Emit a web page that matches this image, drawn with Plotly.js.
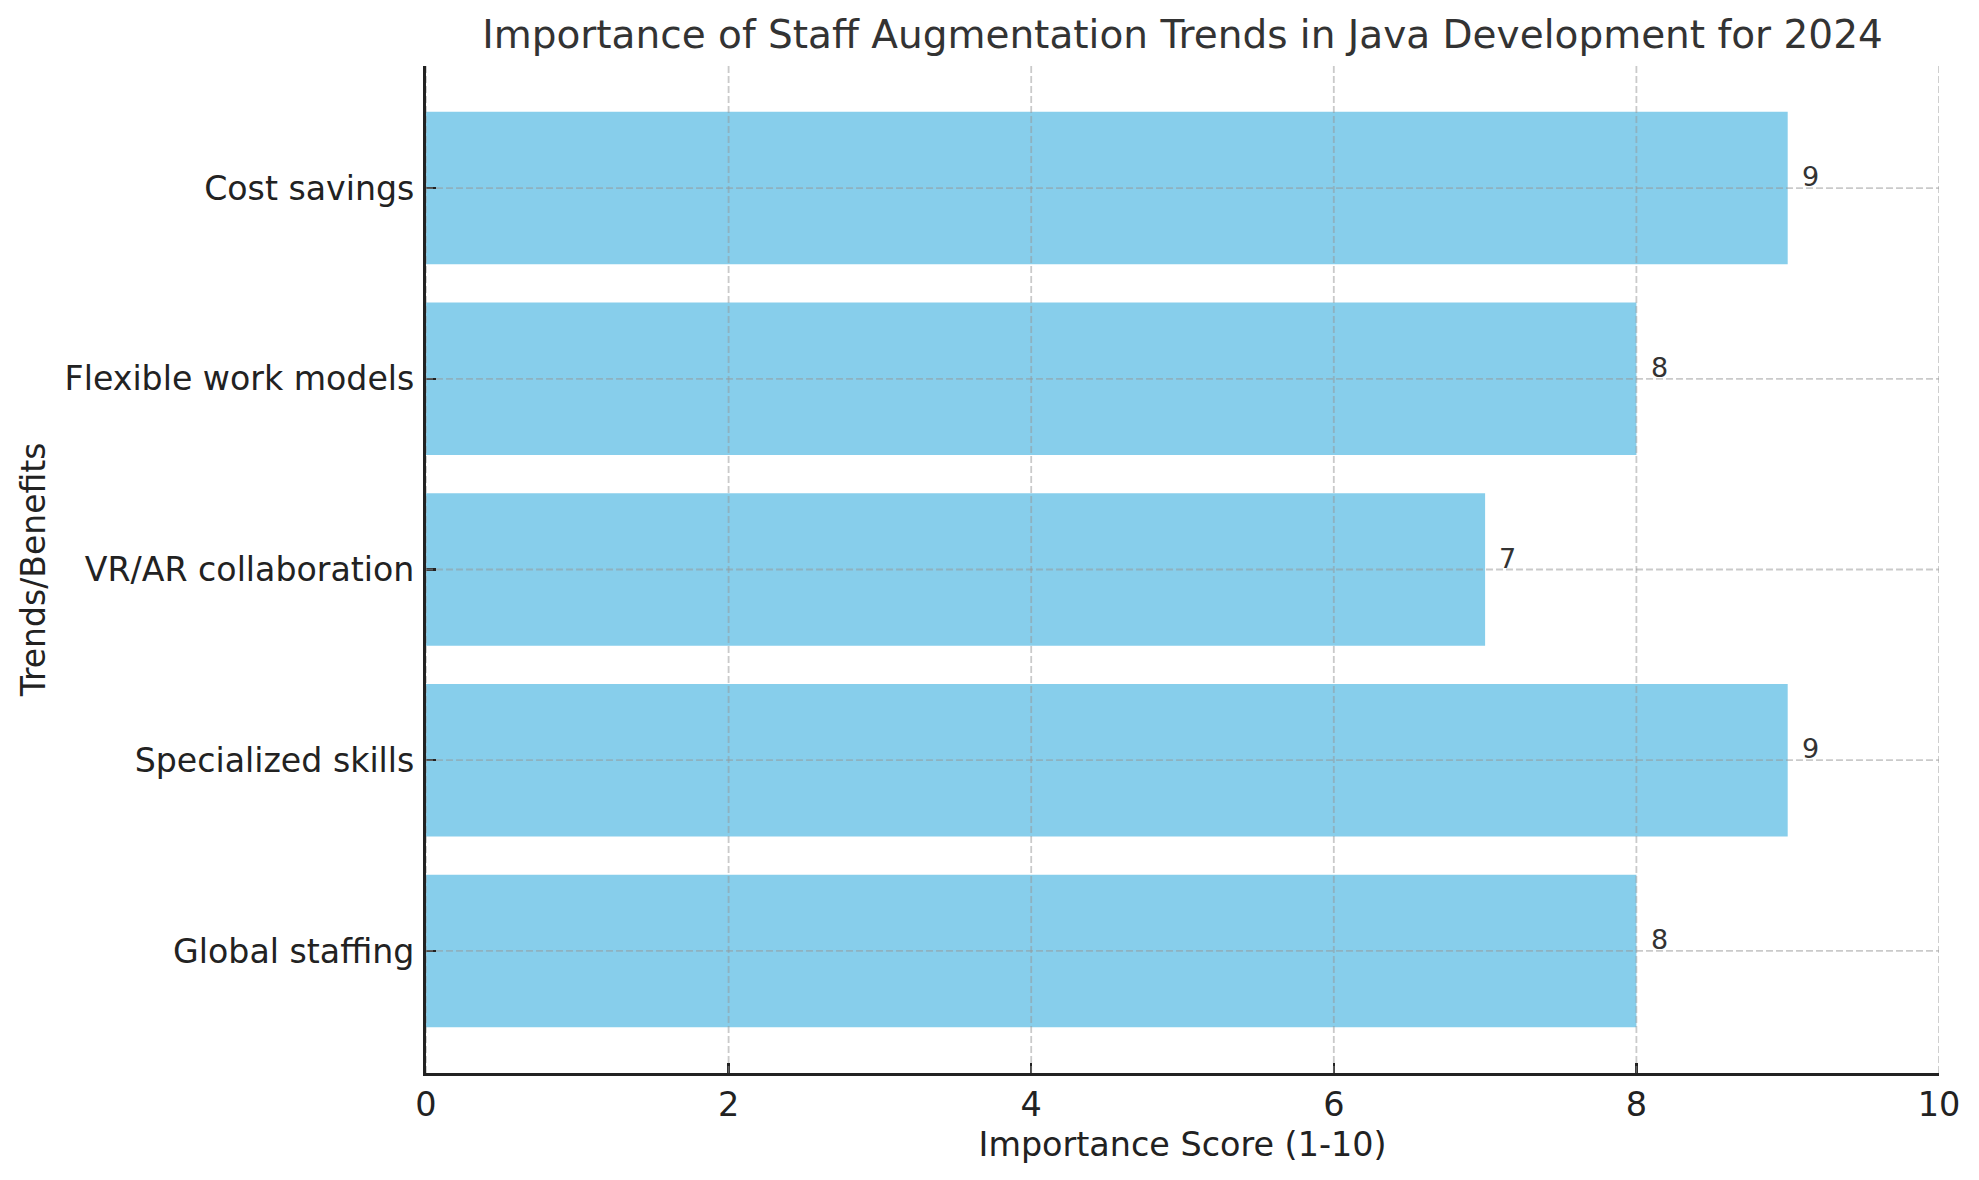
<!DOCTYPE html>
<html>
<head>
<meta charset="utf-8">
<script src="https://cdn.plot.ly/plotly-3.0.1.min.js"></script>
<style>
  html, body { margin: 0; padding: 0; background: #fff; }
  #chart { width: 1979px; height: 1180px; }
</style>
</head>
<body>
<div id="chart"></div>
<script>
// Data, bottom to top as drawn
const categories = ['Global staffing', 'Specialized skills', 'VR/AR collaboration', 'Flexible work models', 'Cost savings'];
const scores = [8, 9, 7, 8, 9];
const xTicks = [0, 2, 4, 6, 8, 10];

const FONT = 'DejaVu Sans, Verdana, sans-serif';
const gridStyle = { color: 'rgba(150,150,150,0.5)', width: 1.8, dash: '7px,3px' };

const trace = {
    type: 'bar',
    orientation: 'h',
    x: scores,
    y: categories,
    marker: { color: '#87CEEB', line: { width: 0 } },
    hoverinfo: 'x+y'
};

// grid above the bars, like the original
const shapes = [];
xTicks.forEach(t => {
    shapes.push({ type: 'line', layer: 'above', xref: 'x', yref: 'paper',
        x0: t, x1: t, y0: 0, y1: 1, line: gridStyle });
});
categories.forEach(c => {
    shapes.push({ type: 'line', layer: 'above', xref: 'paper', yref: 'y',
        x0: 0, x1: 1, y0: c, y1: c, line: gridStyle });
});

// value labels just right of each bar
const annotations = categories.map((c, i) => ({
    x: scores[i] + 0.1, y: c, xref: 'x', yref: 'y',
    text: String(scores[i]), showarrow: false,
    xanchor: 'left', yanchor: 'bottom', yshift: -6, xshift: -3,
    font: { family: FONT, size: 27, color: '#333' }
}));

const layout = {
    width: 1979,
    height: 1180,
    margin: { l: 426, r: 40, t: 66, b: 107 },
    paper_bgcolor: '#fff',
    plot_bgcolor: '#fff',
    font: { family: FONT, color: '#222' },
    title: {
        text: 'Importance of Staff Augmentation Trends in Java Development for 2024',
        font: { family: FONT, size: 39, color: '#333' },
        xref: 'paper', x: 0.5, xanchor: 'center',
        yref: 'container', y: 0.971, yanchor: 'middle'
    },
    bargap: 0.2,
    showlegend: false,
    xaxis: {
        range: [0, 10],
        tickvals: xTicks,
        ticktext: xTicks.map(String),
        showgrid: false,
        zeroline: false,
        showline: true, linecolor: '#222', linewidth: 3,
        ticks: 'inside', ticklen: 10, tickwidth: 2.5, tickcolor: '#222',
        tickfont: { family: FONT, size: 33.5, color: '#222' },
        title: { text: 'Importance Score (1-10)', standoff: 10,
                 font: { family: FONT, size: 33.4, color: '#222' } },
        automargin: false,
        fixedrange: true
    },
    yaxis: {
        type: 'category',
        categoryorder: 'array',
        categoryarray: categories,
        range: [-0.64, 4.64],
        showgrid: false,
        zeroline: false,
        showline: true, linecolor: '#222', linewidth: 3,
        ticks: 'inside', ticklen: 10, tickwidth: 2.5, tickcolor: '#222',
        ticklabelstandoff: 2,
        tickfont: { family: FONT, size: 33.2, color: '#222' },
        title: { text: 'Trends/Benefits', standoff: 10,
                 font: { family: FONT, size: 33, color: '#222' } },
        automargin: false,
        fixedrange: true
    },
    shapes: shapes,
    annotations: annotations
};

Plotly.newPlot('chart', [trace], layout, { displayModeBar: false, staticPlot: true });
</script>
</body>
</html>
